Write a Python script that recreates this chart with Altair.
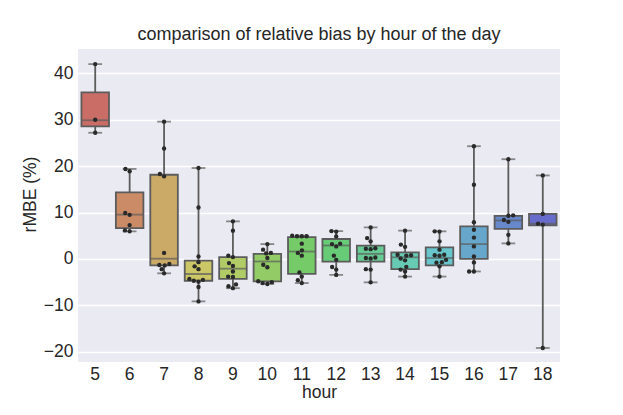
import colorsys
import altair as alt
import pandas as pd

# ---------------- data ----------------
hours = [5, 6, 7, 8, 9, 10, 11, 12, 13, 14, 15, 16, 17, 18]

pts_5 = [42.0, 30.0, 27.2]
pts_6 = [19.4, 18.9, 9.9, 9.5, 7.3, 6.15, 5.95]
pts_7 = [29.6, 23.8, 18.3, 17.8, 1.3, -1.1, -1.3, -1.4, -2.2, -3.1]
pts_8 = [19.6, 11.1, 0.55, -0.7, -1.6, -2.2, -4.3, -4.5, -4.7, -4.9, -6.05, -9.15]
pts_9 = [8.1, 6.1, 0.7, 0.4, -0.9, -1.5, -2.7, -3.8, -3.9, -5.5, -5.9, -6.3]
pts_10 = [3.2, 2.0, 1.3, 1.2, 0.2, -1.25, -1.8, -4.8, -5.0, -5.2, -5.4]
pts_11 = [5.0, 4.9, 4.9, 4.9, 3.3, 1.85, 1.3, 0.7, -2.9, -3.8, -4.6, -5.2]
pts_12 = [6.0, 5.9, 4.85, 3.3, 3.2, 2.7, 0.7, -0.2, -1.75, -2.3, -3.45]
pts_13 = [6.8, 4.5, 3.8, 2.3, 2.2, 2.1, 0.3, 0.2, 0.1, -2.2, -2.3, -5.05]
pts_14 = [6.1, 3.1, 2.6, 0.9, 0.8, 0.7, 0.1, -0.3, -1.7, -2.3, -2.7, -3.8]
pts_15 = [5.95, 5.9, 3.8, 2.0, 0.9, 0.8, 0.7, -0.2, -0.7, -0.8, -1.6, -3.8]
pts_16 = [24.3, 16.0, 7.9, 6.3, 4.6, 2.7, 0.55, -0.75, -2.7, -2.7]
pts_17 = [21.5, 9.4, 9.3, 8.4, 8.0, 5.2, 3.35]
pts_18 = [18.0, 9.7, 7.6, 7.4, -19.2]

points_by_hour = [pts_5, pts_6, pts_7, pts_8, pts_9, pts_10, pts_11,
                  pts_12, pts_13, pts_14, pts_15, pts_16, pts_17, pts_18]

q1 = [28.6, 6.66, -1.4, -4.7, -4.3, -4.85, -3.2, -0.6, -0.6, -2.2, -1.4, 0.0, 6.5, 7.25]
median = [29.9, 9.55, 0.05, -3.25, -2.1, -0.55, 1.6, 2.9, 1.1, 0.35, 0.2, 3.2, 8.3, 7.6]
q3 = [35.9, 14.35, 18.15, -0.35, 0.4, 1.1, 4.7, 4.3, 2.85, 1.4, 2.5, 7.0, 9.3, 9.7]

# ---------------- style ----------------
PLOT_W, PLOT_H = 482, 313
Y_MIN, Y_MAX = -22.22, 45.26
STEP = PLOT_W / len(hours)
BOX_W = 0.8 * STEP
CAP_W = 0.4 * STEP
DOT_D = 4.8
KY = PLOT_H / (Y_MAX - Y_MIN)
EDGE = "#5c5c5c"
TEXT = "#262626"
FONT = "Liberation Sans"
FS = 17.5


def hls_colors(n_total, n):
    out = []
    for i in range(n):
        h = (i / n_total + 0.01) % 1
        r, g, b = colorsys.hls_to_rgb(h, 0.6, 0.65 * 0.75)
        out.append("#%02x%02x%02x" % (round(r * 255), round(g * 255), round(b * 255)))
    return out


box_colors = hls_colors(20, len(hours))


def swarm(vals):
    order = sorted(range(len(vals)), key=lambda i: vals[i])
    placed = []
    offs = [0.0] * len(vals)
    for i in order:
        y = vals[i] * KY
        cands = [0.0]
        for px, py in placed:
            dy = abs(py - y)
            if dy < DOT_D:
                dx = (DOT_D ** 2 - dy ** 2) ** 0.5
                cands += [px - dx, px + dx]
        cands.sort(key=lambda c: (abs(c), c))
        for c in cands:
            if all((c - px) ** 2 + (y - py) ** 2 >= DOT_D ** 2 - 1e-6 for px, py in placed):
                offs[i] = c
                placed.append((c, y))
                break
    return [o / STEP for o in offs]


stats = pd.DataFrame({
    "hour": hours,
    "q1": q1,
    "median": median,
    "q3": q3,
    "lo": [min(p) for p in points_by_hour],
    "hi": [max(p) for p in points_by_hour],
    "color": box_colors,
})

rows = []
for h, vals in zip(hours, points_by_hour):
    for v, d in zip(vals, swarm(vals)):
        rows.append({"hour": h, "value": v, "dx": d})
points = pd.DataFrame(rows)

x_enc = alt.X(
    "hour:O",
    scale=alt.Scale(paddingInner=0, paddingOuter=0),
    axis=alt.Axis(title="hour", labelAngle=0, ticks=False, domain=False,
                  grid=False, labelPadding=3, titlePadding=1),
)
y_scale = alt.Scale(domain=[Y_MIN, Y_MAX], nice=False, zero=False)
y_axis = alt.Axis(title="rMBE (%)", values=[-20, -10, 0, 10, 20, 30, 40],
                  ticks=False, domain=False, grid=True, labelPadding=5,
                  titlePadding=4, titleY=145)

base = alt.Chart(stats)

whisker = base.mark_rule(color=EDGE, strokeWidth=1.8).encode(
    x=x_enc, y=alt.Y("lo:Q", scale=y_scale, axis=y_axis), y2="hi:Q"
)
box = base.mark_bar(size=BOX_W, stroke=EDGE, strokeWidth=1.8).encode(
    x=x_enc, y=alt.Y("q1:Q", scale=y_scale, axis=y_axis), y2="q3:Q",
    color=alt.Color("color:N", scale=None, legend=None),
)
med_line = base.mark_tick(size=BOX_W, thickness=1.8, color=EDGE).encode(
    x=x_enc, y=alt.Y("median:Q", scale=y_scale, axis=y_axis)
)
cap_lo = base.mark_tick(size=CAP_W, thickness=1.8, color=EDGE).encode(
    x=x_enc, y=alt.Y("lo:Q", scale=y_scale, axis=y_axis)
)
cap_hi = base.mark_tick(size=CAP_W, thickness=1.8, color=EDGE).encode(
    x=x_enc, y=alt.Y("hi:Q", scale=y_scale, axis=y_axis)
)
dots = alt.Chart(points).mark_circle(size=19, color="#2a2a2a", opacity=1).encode(
    x=x_enc,
    xOffset=alt.XOffset("dx:Q", scale=alt.Scale(domain=[-0.5, 0.5])),
    y=alt.Y("value:Q", scale=y_scale, axis=y_axis),
)

chart = alt.layer(whisker, box, med_line, cap_lo, cap_hi, dots).properties(
    width=PLOT_W,
    height=PLOT_H,
    title=alt.TitleParams("comparison of relative bias by hour of the day",
                          fontSize=18, font=FONT, color=TEXT, fontWeight="normal",
                          offset=5),
    autosize=alt.AutoSizeParams(type="none"),
    padding={"left": 70, "top": 41, "right": 10, "bottom": 45},
).configure_view(
    fill="#eaeaf2", stroke=None
).configure_axis(
    labelFont=FONT, titleFont=FONT, labelFontSize=FS, titleFontSize=FS,
    labelColor=TEXT, titleColor=TEXT, titleFontWeight="normal",
    gridColor="white", gridWidth=1.3,
)

chart.save("out.html", embed_options={"renderer": "svg", "actions": False})
